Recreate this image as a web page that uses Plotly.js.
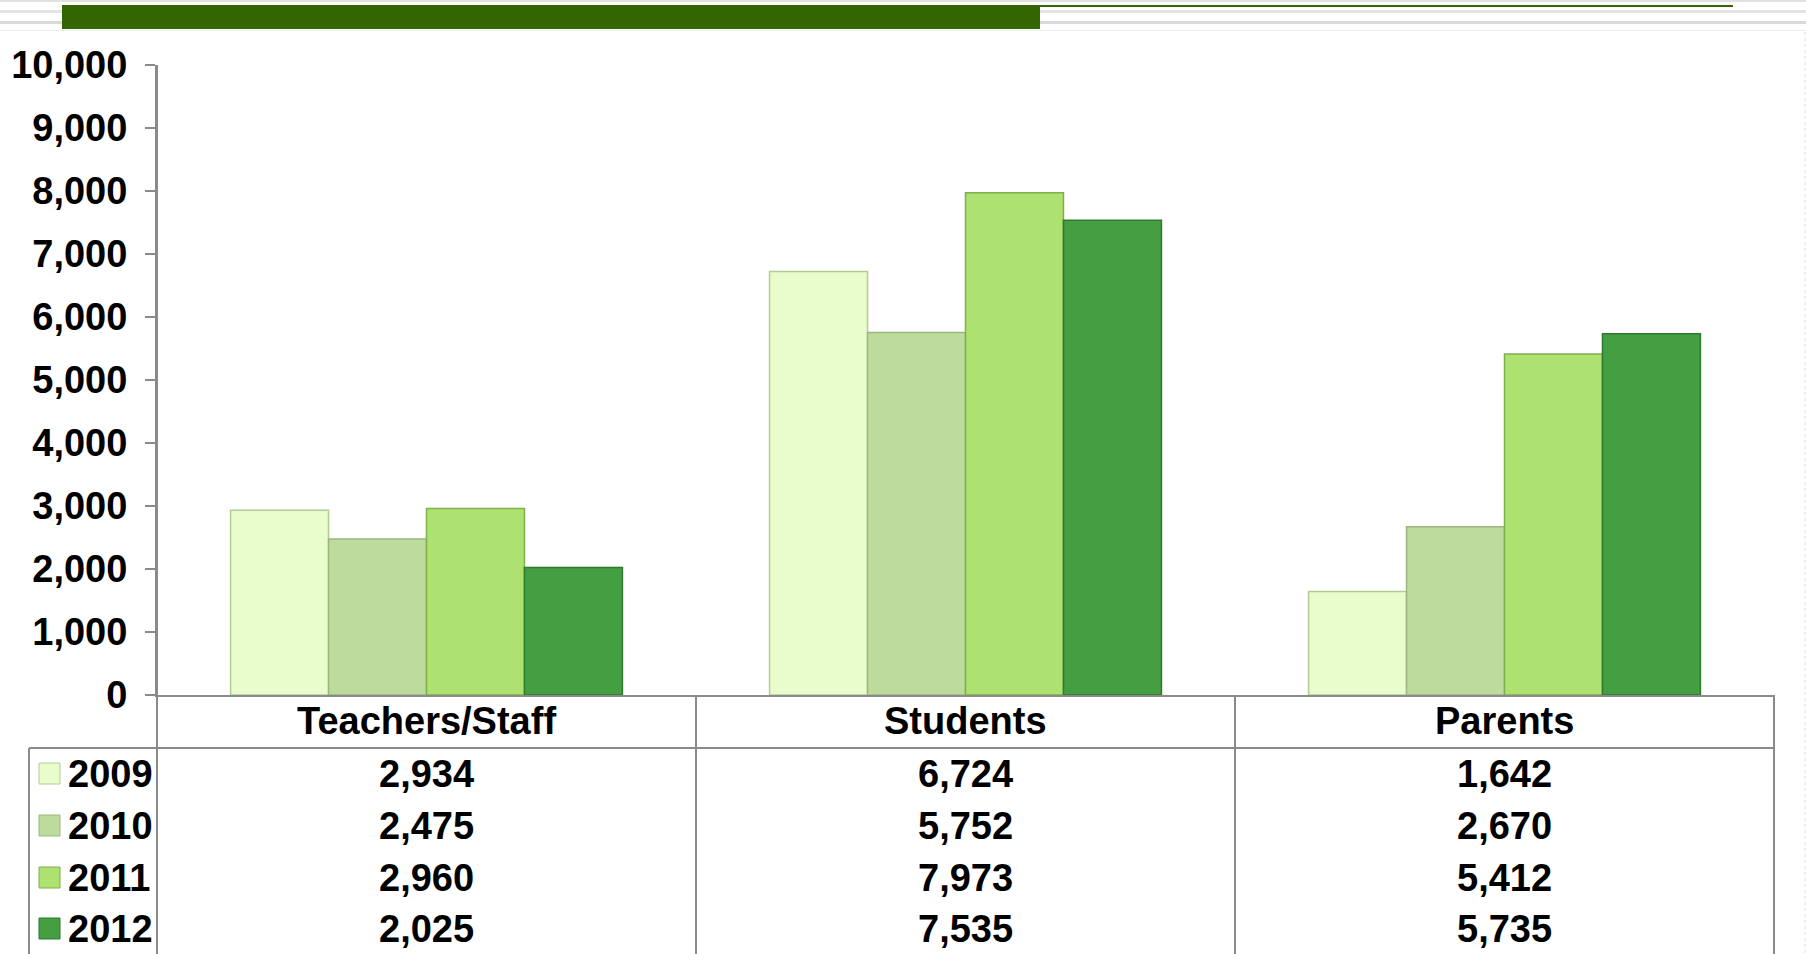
<!DOCTYPE html>
<html>
<head>
<meta charset="utf-8">
<script src="https://cdn.plot.ly/plotly-3.0.1.min.js"></script>
<style>
html,body{margin:0;padding:0;background:#fff;}
#chart{width:1806px;height:954px;}
</style>
</head>
<body>
<div id="chart"></div>
<script>
// ---- data ----
const categories = ["Teachers/Staff", "Students", "Parents"];
const years = ["2009", "2010", "2011", "2012"];
const values2009 = [2934, 6724, 1642];
const values2010 = [2475, 5752, 2670];
const values2011 = [2960, 7973, 5412];
const values2012 = [2025, 7535, 5735];
const yTickVals = [0, 1000, 2000, 3000, 4000, 5000, 6000, 7000, 8000, 9000, 10000];

const seriesValues = [values2009, values2010, values2011, values2012];
const fillColors = ["#e9fccc", "#bedb9e", "#ade270", "#449e42"];
const lineColors = ["#b3cc96", "#9ab67e", "#7fae4c", "#2e7a2e"];

// ---- layout geometry (pixels) ----
const W = 1806, H = 954;
const plotL = 157, plotR = 1774, plotT = 65, plotB = 695;
const plotW = plotR - plotL, plotH = plotB - plotT;
const px = x => (x - plotL) / plotW;   // pixel x -> paper x
const py = y => (plotB - y) / plotH;   // pixel y -> paper y

const font = {family: "Liberation Sans, Arial, sans-serif", size: 38, color: "#000", weight: "bold"};
const gridGray = "#8a8a8a";

const traces = years.map((yr, i) => ({
  type: "bar",
  name: yr,
  x: categories,
  y: seriesValues[i],
  marker: {color: fillColors[i], line: {color: lineColors[i], width: 1.5}},
  hoverinfo: "x+y+name"
}));

const shapes = [];
const annotations = [];

// top decoration stripes
[[0, 2, "#e2e2e2"], [10, 13, "#e4e4e4"], [21, 24, "#dadada"], [30, 31, "#efefef"]].forEach(s => {
  shapes.push({type: "rect", xref: "paper", yref: "paper", x0: px(0), x1: px(W), y0: py(s[1]), y1: py(s[0]),
    fillcolor: s[2], line: {width: 0}, layer: "below"});
});
// dark green header bar + thin line
shapes.push({type: "rect", xref: "paper", yref: "paper", x0: px(62), x1: px(1040), y0: py(29), y1: py(5),
  fillcolor: "#336600", line: {width: 0}});
shapes.push({type: "rect", xref: "paper", yref: "paper", x0: px(1040), x1: px(1733), y0: py(7), y1: py(5),
  fillcolor: "#336600", line: {width: 0}});
// faint dotted right edge
shapes.push({type: "line", xref: "paper", yref: "paper", x0: px(1805), x1: px(1805), y0: py(32), y1: py(H),
  line: {color: "#dddddd", width: 1, dash: "dot"}});

// data table lines
const line = (x0, y0, x1, y1) => shapes.push({type: "line", xref: "paper", yref: "paper",
  x0: px(x0), x1: px(x1), y0: py(y0), y1: py(y1), line: {color: gridGray, width: 2}});
line(plotL, plotT, plotL, H);          // y axis extended
line(29, 748, plotR, 748);             // header bottom line
line(29, 748, 29, H);                  // legend column left
line(plotR, plotB, plotR, H);          // right border
const catW = plotW / categories.length;
for (let j = 1; j < categories.length; j++) line(plotL + catW * j, plotB, plotL + catW * j, H);

// category header labels
categories.forEach((c, j) => {
  annotations.push({xref: "x", yref: "paper", x: c, y: py(721), text: c, showarrow: false,
    xanchor: "center", yanchor: "middle", font: font});
});

// rows
const rowY = [774, 826, 878, 929];
years.forEach((yr, i) => {
  // legend key square
  shapes.push({type: "rect", xref: "paper", yref: "paper", x0: px(39), x1: px(60),
    y0: py(rowY[i] + 10), y1: py(rowY[i] - 11), fillcolor: fillColors[i], line: {color: lineColors[i], width: 1}});
  annotations.push({xref: "paper", yref: "paper", x: px(66), y: py(rowY[i]), text: yr, showarrow: false,
    xanchor: "left", yanchor: "middle", font: font});
  categories.forEach((c, j) => {
    annotations.push({xref: "x", yref: "paper", x: c, y: py(rowY[i]),
      text: seriesValues[i][j].toLocaleString("en-US"), showarrow: false,
      xanchor: "center", yanchor: "middle", font: font});
  });
});

const layout = {
  width: W, height: H,
  margin: {l: plotL, r: W - plotR, t: plotT, b: H - plotB, pad: 0},
  paper_bgcolor: "#ffffff",
  plot_bgcolor: "#ffffff",
  showlegend: false,
  barmode: "group",
  bargap: 0.273,
  bargroupgap: 0,
  font: font,
  xaxis: {
    type: "category", range: [-0.5, 2.5], showticklabels: false, ticks: "",
    showline: true, linecolor: gridGray, linewidth: 2, showgrid: false, zeroline: false, fixedrange: true
  },
  yaxis: {
    range: [0, 10000], tickvals: yTickVals, ticktext: yTickVals.map(v => v.toLocaleString("en-US")),
    ticks: "outside", ticklen: 10, tickwidth: 2, tickcolor: gridGray,
    showline: true, linecolor: gridGray, linewidth: 2, showgrid: false, zeroline: false,
    tickfont: font, ticklabelstandoff: 10, fixedrange: true
  },
  shapes: shapes,
  annotations: annotations
};

Plotly.newPlot("chart", traces, layout, {displayModeBar: false, staticPlot: true});
</script>
</body>
</html>
